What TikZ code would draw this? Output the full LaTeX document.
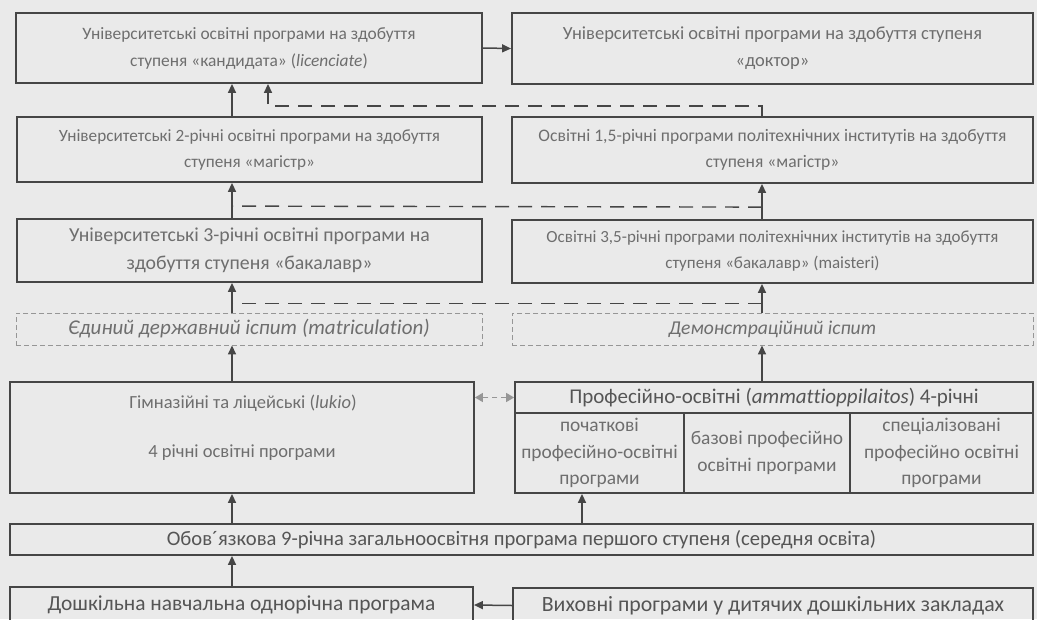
\documentclass[tikz,border=0pt]{standalone}
\usepackage{fontspec}
\setmainfont{Carlito}[Ligatures=NoCommon]
\usetikzlibrary{arrows.meta,calc}
\definecolor{bg}{RGB}{234,234,234}
\definecolor{linec}{RGB}{70,70,70}
\definecolor{txtc}{RGB}{110,110,110}
\definecolor{txtd}{RGB}{85,85,85}
\definecolor{dashc}{RGB}{150,150,150}
\newcommand\bx[7]{\node[#6,minimum width={(#4-#2)*1pt},minimum height={(#5-#3)*1pt}] (#1) at ({(#2+#4)/2},{(#3+#5)/2}) {#7};}
\newcommand\fs[2]{\fontsize{#1}{#2}\selectfont}
\begin{document}
\begin{tikzpicture}[x=1pt,y=-1pt,
  box/.style={draw=linec, line width=1.8pt, inner sep=0pt, text=txtc, align=center},
  dbox/.style={draw=dashc, line width=0.9pt, dash pattern=on 5pt off 3pt, inner sep=0pt, text=txtc, align=center},
  flow/.style={text=txtd},
  arr/.style={draw=linec, line width=1.5pt, -{Triangle[length=9pt,width=8pt]}},
  dline/.style={draw=linec, line width=1.4pt, dash pattern=on 14pt off 9pt},
  darr/.style={dline, -{Triangle[length=9pt,width=8pt]}},
  ijarr/.style={draw=dashc, line width=1.4pt, dash pattern=on 5pt off 4pt, {Triangle[length=8pt,width=9pt]}-{Triangle[length=8pt,width=9pt]}}]
\fill[bg] (0,0) rectangle (1037,619);
\useasboundingbox (0,0) rectangle (1037,619);
\coordinate (xl) at (232,0);
\coordinate (xl2) at (268,0);
\coordinate (xr) at (762,0);
\coordinate (xc) at (582,0);

\bx{A}{16}{13}{482}{83}{box,font=\fs{17.4}{27}}{Університетські освітні програми на здобуття\\ступеня «кандидата» (\textit{licenciate})}
\bx{B}{512}{13}{1033}{84}{box,font=\fs{18.5}{27}}{Університетські освітні програми на здобуття ступеня\\«доктор»}
\bx{C}{17}{117}{482}{182}{box,font=\fs{17.2}{26}}{Університетські 2-річні освітні програми на здобуття\\ступеня «магістр»}
\bx{D}{512}{117}{1033}{183}{box,font=\fs{17.6}{26}}{Освітні 1,5-річні програми політехнічних інститутів на здобуття\\ступеня «магістр»}
\bx{E}{17}{219}{482}{282}{box,font=\fs{19.8}{28}}{Університетські 3-річні освітні програми на\\здобуття ступеня «бакалавр»}
\bx{F}{512}{220}{1033}{283}{box,font=\fs{17}{26}}{Освітні 3,5-річні програми політехнічних інститутів на здобуття\\ступеня «бакалавр» (maisteri)}
\bx{G}{16}{313}{482}{345}{dbox,font=\fs{21}{24}\itshape}{Єдиний державний іспит (matriculation)}
\bx{H}{512}{313}{1033}{345}{dbox,font=\fs{19.6}{24}\itshape}{Демонстраційний іспит}
\bx{I}{10}{382}{474}{493}{box}{}
\node[font=\fs{18.5}{22},text=txtc] (i1) at (243,403) {Гімназійні та ліцейські (\textit{lukio})};
\node[font=\fs{18.5}{22},text=txtc] (i2) at (242,453) {4 річні освітні програми};
\bx{Jh}{515}{382}{1033}{413}{box,font=\fs{21}{24},text=txtd}{Професійно-освітні (\textit{ammattioppilaitos}) 4-річні}
\bx{J1}{515}{413}{684}{493}{box,font=\fs{19.4}{26.5}}{початкові\\професійно-освітні\\програми}
\bx{J2}{684}{413}{850}{493}{box,font=\fs{19.4}{26.5}}{базові професійно\\освітні програми}
\bx{J3}{850}{413}{1033}{493}{box,font=\fs{19.4}{26.5}}{спеціалізовані\\професійно освітні\\програми}
\bx{K}{10}{524}{1033}{555}{box,flow,font=\fs{20.6}{24}}{Обов´язкова 9-річна загальноосвітня програма першого ступеня (середня освіта)}
\bx{L}{10}{587}{473}{623}{box,flow,font=\fs{21.4}{24}}{Дошкільна навчальна однорічна програма}
\bx{M}{513}{588}{1033}{623}{box,flow,font=\fs{21.8}{24}}{Виховні програми у дитячих дошкільних закладах}

\draw[arr] (A.east) -- (B.west);
\draw[arr] (C.north -| xl) -- (A.south -| xl);
\draw[darr] (D.north -| xr) -- ++(0,-10) -| (A.south -| xl2);
\draw[arr] (E.north -| xl) -- (C.south -| xl);
\draw[arr] (F.north -| xr) -- (D.south -| xr);
\draw[dline] ($(F.north -| xr)+(0,-12)$) -- ($(E.north -| xl)+(0,-12)$);
\draw[arr] (G.north -| xl) -- (E.south -| xl);
\draw[arr] (H.north -| xr) -- (F.south -| xr);
\draw[dline] ($(H.north -| xr)+(0,-9)$) -- ($(G.north -| xl)+(0,-9)$);
\draw[arr] (I.north -| xl) -- (G.south -| xl);
\draw[arr] (Jh.north -| xr) -- (H.south -| xr);
\draw[ijarr] (Jh.west) -- (Jh.west -| I.east);
\draw[arr] (K.north -| xl) -- (I.south -| xl);
\draw[arr] (K.north -| xc) -- (J1.south -| xc);
\draw[arr] (L.north -| xl) -- (K.south -| xl);
\draw[arr] (M.west) -- (L.east);
\end{tikzpicture}
\end{document}
